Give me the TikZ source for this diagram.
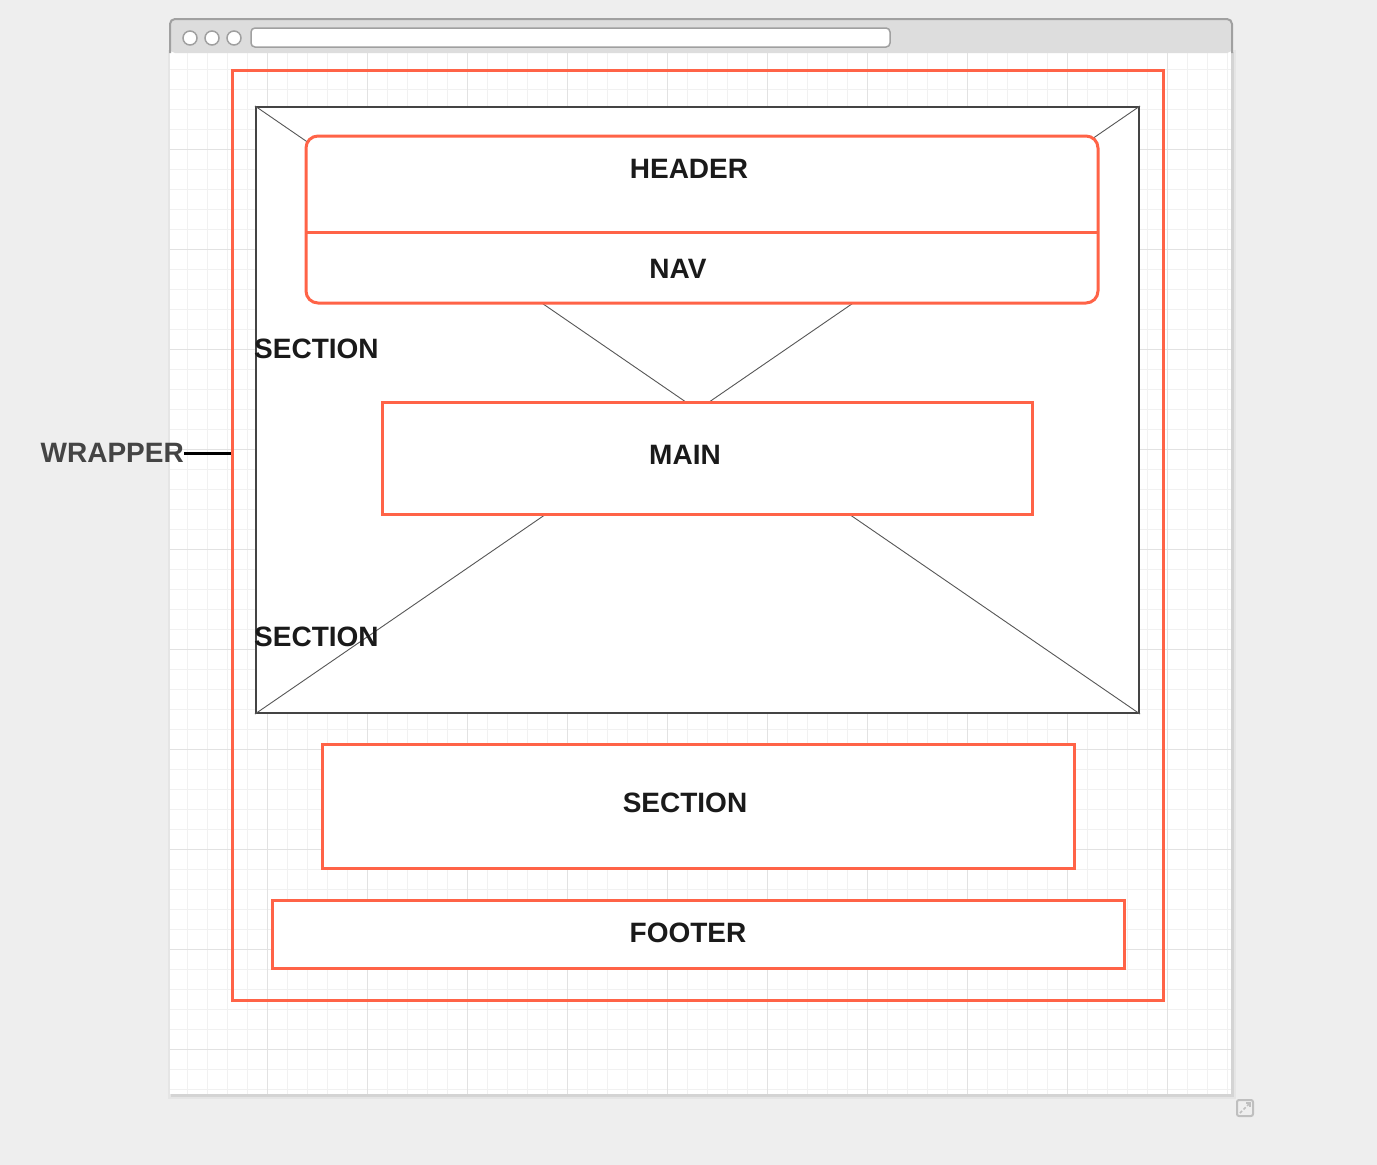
\documentclass[tikz,border=0pt]{standalone}
\usepackage{fontspec}
\setmainfont{Liberation Sans}
\definecolor{bgc}{HTML}{EEEEEE}
\definecolor{tom}{HTML}{FF6347}
\definecolor{gminor}{HTML}{F1F1F1}
\definecolor{gmajor}{HTML}{E2E2E2}
\definecolor{tbar}{HTML}{DDDDDD}
\definecolor{tborder}{HTML}{A0A0A0}
\definecolor{wfc}{HTML}{444444}
\definecolor{txt}{HTML}{1A1A1A}
\definecolor{wtxt}{HTML}{444444}
\tikzset{
  obox/.style={draw=tom, line width=3pt, inner sep=0pt},
  wfbox/.style={draw=wfc, fill=white, line width=2pt, inner sep=0pt},
  diag/.style={draw=wfc!90, line width=0.9pt},
  lbl/.style={text=txt, font=\fontsize{28}{33}\selectfont\bfseries, inner sep=0pt, anchor=base},
  dot/.style={circle, draw=tborder, fill=white, line width=1.5pt, minimum size=14pt, inner sep=0pt},
}
\begin{document}
\begin{tikzpicture}[x=1pt,y=-1pt]
\fill[bgc] (0,0) rectangle (1377,1165);
\useasboundingbox (0,0) rectangle (1377,1165);
% window shadow and body
\fill[black!10] (168,50) rectangle (1236,1099);
\fill[black!17] (171,52) rectangle (1234,1097);
\fill[white] (170,50) rectangle (1231,1094);
\begin{scope}
\clip (170,52) rectangle (1231,1094);
\foreach \x in {187,207,...,1227} \draw[gminor, line width=1pt] (\x,52) -- (\x,1094);
\foreach \y in {69,89,...,1089} \draw[gminor, line width=1pt] (170,\y) -- (1231,\y);
\foreach \x in {267,367,...,1167} \draw[gmajor, line width=1pt] (\x,52) -- (\x,1094);
\foreach \y in {149,249,...,1049} \draw[gmajor, line width=1pt] (170,\y) -- (1231,\y);
\end{scope}
% title bar
\fill[tbar, rounded corners=5pt] (170,53) -- (170,19) -- (1232,19) -- (1232,53) -- cycle;
\draw[tborder, line width=2pt, rounded corners=5pt] (170,53) -- (170,19) -- (1232,19) -- (1232,53);
\node[dot] (c1) at (190,38) {};
\node[dot] (c2) at (212,38) {};
\node[dot] (c3) at (234,38) {};
\node[draw=tborder, fill=white, line width=1.5pt, rounded corners=4pt, minimum width=639pt, minimum height=19pt, inner sep=0pt] (addr) at (570.5,37.5) {};
% resize icon
\node[draw=black!25, line width=2pt, rounded corners=2pt, minimum size=16pt, inner sep=0pt] (rs) at (1245,1108) {};
\draw[black!25, line width=1.5pt, dashed, dash pattern=on 3pt off 2pt] (1240,1113) -- (1250,1103);
\draw[black!25, line width=1.5pt] (1246,1103) -- (1250,1103) -- (1250,1107);
% wrapper
\node[obox, minimum width=931pt, minimum height=930pt] (wrapper) at (698,535.5) {};
% wireframe section
\node[wfbox, minimum width=883pt, minimum height=606pt] (wf) at (697.5,410) {};
\draw[diag] (wf.north west) -- (wf.south east);
\draw[diag] (wf.north east) -- (wf.south west);
% header / nav
\node[obox, fill=white, rounded corners=12pt, minimum width=792pt, minimum height=167pt] (hn) at (702,219.5) {};
\coordinate (divl) at (306,232);
\coordinate (divr) at (1098,232);
\draw[tom, line width=3pt] (divl) -- (divr);
% main
\node[obox, fill=white, minimum width=650pt, minimum height=112pt] (main) at (707,458) {};
% section
\node[obox, fill=white, minimum width=752pt, minimum height=124pt] (sect) at (698,806) {};
% footer
\node[obox, fill=white, minimum width=852pt, minimum height=68pt] (foot) at (698,934) {};
% labels
\node[lbl] (lheader) at (689,178) {HEADER};
\node[lbl] (lnav) at (678,278) {NAV};
\node[lbl, anchor=base west] (lsec1) at (254,358) {SECTION};
\node[lbl] (lmain) at (685,464) {MAIN};
\node[lbl, anchor=base west] (lsec2) at (254,646) {SECTION};
\node[lbl] (lsec3) at (685,812) {SECTION};
\node[lbl] (lfoot) at (688,942) {FOOTER};
\node[lbl, text=wtxt, font=\fontsize{28}{33}\selectfont\bfseries, anchor=base east] (lwrap) at (184,462) {WRAPPER};
\draw[black, line width=3pt] (lwrap.east |- 0,453) -- (wrapper.west |- 0,453);
\end{tikzpicture}
\end{document}
